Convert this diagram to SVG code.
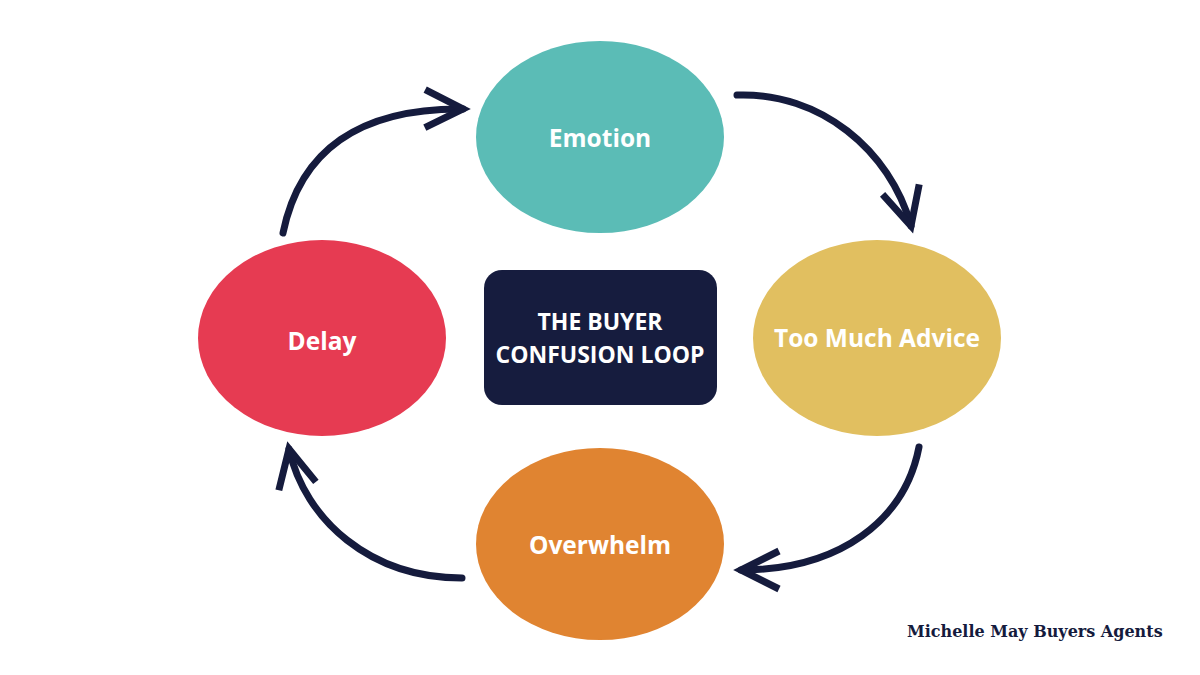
<svg xmlns="http://www.w3.org/2000/svg" width="1200" height="675" viewBox="0 0 1200 675">
<style>
.lbl{font-family:"Open Sans","Liberation Sans",sans-serif;font-weight:700;fill:#ffffff;text-anchor:middle;dominant-baseline:central}
.node-lbl{font-size:24.5px}
.title{font-size:23px}
.conn{fill:none;stroke:#151b3d;stroke-width:7;stroke-linecap:round;marker-end:url(#chev)}
.brand{font-family:"DejaVu Serif","Liberation Serif",serif;font-weight:700;font-size:16px;fill:#151b3d}
</style>
<defs>
<marker id="chev" markerUnits="userSpaceOnUse" viewBox="-50 -30 60 60" refX="0" refY="0" markerWidth="60" markerHeight="60" orient="auto">
<path d="M-38,-19 L0,0 L-38,19" fill="none" stroke="#151b3d" stroke-width="7" stroke-linejoin="miter"/>
</marker>
</defs>
<rect width="1200" height="675" fill="#ffffff"/>
<g id="emotion">
<ellipse cx="600" cy="137" rx="124" ry="96" fill="#5bbcb6"/>
<text class="lbl node-lbl" x="600" y="137">Emotion</text>
</g>
<g id="too-much-advice">
<ellipse cx="877" cy="338" rx="124" ry="98" fill="#e1bf60"/>
<text class="lbl node-lbl" x="877" y="337">Too Much Advice</text>
</g>
<g id="overwhelm">
<ellipse cx="600" cy="544" rx="124" ry="96" fill="#e08431"/>
<text class="lbl node-lbl" x="600" y="544">Overwhelm</text>
</g>
<g id="delay">
<ellipse cx="322" cy="338" rx="124" ry="98" fill="#e63b52"/>
<text class="lbl node-lbl" x="322" y="340">Delay</text>
</g>
<g id="center">
<rect x="484" y="270" width="233" height="135" rx="18" fill="#161c3e"/>
<text class="lbl title" x="600" y="321">THE BUYER</text>
<text class="lbl title" x="600" y="354">CONFUSION LOOP</text>
</g>
<g id="connectors">
<path class="conn" d="M283,233 C300,150 360,108 463,109"/>
<path class="conn" d="M737,95 C820,92 890,150 911,226"/>
<path class="conn" d="M919,447 C905,520 840,570 741,570"/>
<path class="conn" d="M462,578 C370,578 305,520 289,449"/>
</g>
<text class="brand" x="907" y="637">Michelle May Buyers Agents</text>
</svg>
